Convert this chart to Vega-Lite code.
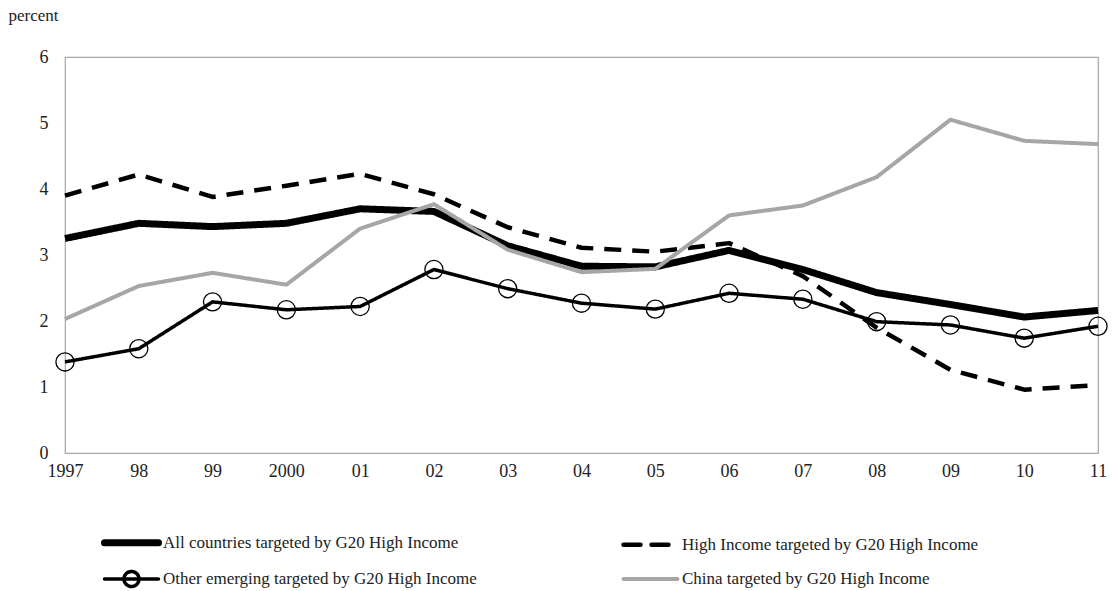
{
  "$schema": "https://vega.github.io/schema/vega-lite/v6.json",
  "autosize": {"type": "none"},
  "width": 1033,
  "height": 396,
  "padding": {"left": 65, "top": 57, "right": 14, "bottom": 138},
  "background": "white",
  "config": {
    "font": "Liberation Serif",
    "view": {"stroke": "#a6a6a6", "strokeWidth": 1.2},
    "axis": {"labelFont": "Liberation Serif", "labelFontSize": 18, "labelColor": "#222", "grid": false, "ticks": false, "domain": false, "titleFont": "Liberation Serif"},
    "legend": {"labelFont": "Liberation Serif", "labelFontSize": 17, "labelColor": "#222"}
  },
  "data": {
    "values": [
      {"year": 1997, "series": "All countries targeted by G20 High Income", "value": 3.25},
      {"year": 1998, "series": "All countries targeted by G20 High Income", "value": 3.48},
      {"year": 1999, "series": "All countries targeted by G20 High Income", "value": 3.43},
      {"year": 2000, "series": "All countries targeted by G20 High Income", "value": 3.48},
      {"year": 2001, "series": "All countries targeted by G20 High Income", "value": 3.7},
      {"year": 2002, "series": "All countries targeted by G20 High Income", "value": 3.66},
      {"year": 2003, "series": "All countries targeted by G20 High Income", "value": 3.14},
      {"year": 2004, "series": "All countries targeted by G20 High Income", "value": 2.83},
      {"year": 2005, "series": "All countries targeted by G20 High Income", "value": 2.82},
      {"year": 2006, "series": "All countries targeted by G20 High Income", "value": 3.07},
      {"year": 2007, "series": "All countries targeted by G20 High Income", "value": 2.78},
      {"year": 2008, "series": "All countries targeted by G20 High Income", "value": 2.43},
      {"year": 2009, "series": "All countries targeted by G20 High Income", "value": 2.25},
      {"year": 2010, "series": "All countries targeted by G20 High Income", "value": 2.06},
      {"year": 2011, "series": "All countries targeted by G20 High Income", "value": 2.16},
      {"year": 1997, "series": "High Income targeted by G20 High Income", "value": 3.9},
      {"year": 1998, "series": "High Income targeted by G20 High Income", "value": 4.22},
      {"year": 1999, "series": "High Income targeted by G20 High Income", "value": 3.88},
      {"year": 2000, "series": "High Income targeted by G20 High Income", "value": 4.05},
      {"year": 2001, "series": "High Income targeted by G20 High Income", "value": 4.23},
      {"year": 2002, "series": "High Income targeted by G20 High Income", "value": 3.92},
      {"year": 2003, "series": "High Income targeted by G20 High Income", "value": 3.42},
      {"year": 2004, "series": "High Income targeted by G20 High Income", "value": 3.11},
      {"year": 2005, "series": "High Income targeted by G20 High Income", "value": 3.05},
      {"year": 2006, "series": "High Income targeted by G20 High Income", "value": 3.18},
      {"year": 2007, "series": "High Income targeted by G20 High Income", "value": 2.68},
      {"year": 2008, "series": "High Income targeted by G20 High Income", "value": 1.9},
      {"year": 2009, "series": "High Income targeted by G20 High Income", "value": 1.26},
      {"year": 2010, "series": "High Income targeted by G20 High Income", "value": 0.96},
      {"year": 2011, "series": "High Income targeted by G20 High Income", "value": 1.03},
      {"year": 1997, "series": "Other emerging targeted by G20 High Income", "value": 1.38},
      {"year": 1998, "series": "Other emerging targeted by G20 High Income", "value": 1.58},
      {"year": 1999, "series": "Other emerging targeted by G20 High Income", "value": 2.29},
      {"year": 2000, "series": "Other emerging targeted by G20 High Income", "value": 2.17},
      {"year": 2001, "series": "Other emerging targeted by G20 High Income", "value": 2.22},
      {"year": 2002, "series": "Other emerging targeted by G20 High Income", "value": 2.78},
      {"year": 2003, "series": "Other emerging targeted by G20 High Income", "value": 2.49},
      {"year": 2004, "series": "Other emerging targeted by G20 High Income", "value": 2.27},
      {"year": 2005, "series": "Other emerging targeted by G20 High Income", "value": 2.18},
      {"year": 2006, "series": "Other emerging targeted by G20 High Income", "value": 2.42},
      {"year": 2007, "series": "Other emerging targeted by G20 High Income", "value": 2.33},
      {"year": 2008, "series": "Other emerging targeted by G20 High Income", "value": 1.99},
      {"year": 2009, "series": "Other emerging targeted by G20 High Income", "value": 1.94},
      {"year": 2010, "series": "Other emerging targeted by G20 High Income", "value": 1.74},
      {"year": 2011, "series": "Other emerging targeted by G20 High Income", "value": 1.92},
      {"year": 1997, "series": "China targeted by G20 High Income", "value": 2.03},
      {"year": 1998, "series": "China targeted by G20 High Income", "value": 2.53},
      {"year": 1999, "series": "China targeted by G20 High Income", "value": 2.73},
      {"year": 2000, "series": "China targeted by G20 High Income", "value": 2.55},
      {"year": 2001, "series": "China targeted by G20 High Income", "value": 3.4},
      {"year": 2002, "series": "China targeted by G20 High Income", "value": 3.77},
      {"year": 2003, "series": "China targeted by G20 High Income", "value": 3.08},
      {"year": 2004, "series": "China targeted by G20 High Income", "value": 2.74},
      {"year": 2005, "series": "China targeted by G20 High Income", "value": 2.79},
      {"year": 2006, "series": "China targeted by G20 High Income", "value": 3.6},
      {"year": 2007, "series": "China targeted by G20 High Income", "value": 3.75},
      {"year": 2008, "series": "China targeted by G20 High Income", "value": 4.18},
      {"year": 2009, "series": "China targeted by G20 High Income", "value": 5.05},
      {"year": 2010, "series": "China targeted by G20 High Income", "value": 4.73},
      {"year": 2011, "series": "China targeted by G20 High Income", "value": 4.68}
    ]
  },
  "encoding": {
    "x": {
      "field": "year", "type": "quantitative",
      "scale": {"domain": [1997, 2011], "nice": false, "zero": false},
      "axis": {
        "title": null,
        "values": [1997, 1998, 1999, 2000, 2001, 2002, 2003, 2004, 2005, 2006, 2007, 2008, 2009, 2010, 2011],
        "labelExpr": "datum.value == 1997 || datum.value == 2000 ? '' + datum.value : slice('' + datum.value, 2)",
        "labelFlush": false,
        "labelPadding": 9,
        "labelBaseline": "top"
      }
    },
    "y": {
      "field": "value", "type": "quantitative",
      "scale": {"domain": [0, 6], "nice": false},
      "axis": {
        "title": "percent",
        "titleAngle": 0,
        "titleAlign": "left",
        "titleBaseline": "alphabetic",
        "titleX": -57,
        "titleY": -37,
        "titleFontSize": 17,
        "titleFontWeight": "normal",
        "titleColor": "#222",
        "values": [0, 1, 2, 3, 4, 5, 6],
        "labelPadding": 17,
        "labelBaseline": "middle"
      }
    }
  },
  "layer": [
    {
      "mark": {"type": "line", "strokeCap": "butt", "strokeJoin": "round"},
      "encoding": {
        "color": {
          "field": "series", "type": "nominal",
          "scale": {
            "domain": ["All countries targeted by G20 High Income", "Other emerging targeted by G20 High Income", "High Income targeted by G20 High Income", "China targeted by G20 High Income"],
            "range": ["#000000", "#000000", "#000000", "#a6a6a6"]
          },
          "legend": {
            "title": null,
            "orient": "none",
            "legendX": 48,
            "legendY": 467,
            "columns": 2,
            "columnPadding": 137,
            "rowPadding": 5,
            "symbolType": "stroke",
            "symbolSize": 900,
            "labelLimit": 0,
            "labelOffset": 13,
            "encode": {
              "symbols": {
                "update": {
                  "shape": {"signal": "datum.value === 'Other emerging targeted by G20 High Income' ? 'M-1.8,0L1.8,0M-0.5,0A0.5,0.5 0 1,1 0.5,0A0.5,0.5 0 1,1 -0.5,0Z' : 'M-1.8,0L1.8,0'"},
                  "fill": {"value": "transparent"},
                  "strokeCap": {"value": "round"}
                }
              }
            }
          }
        },
        "strokeDash": {
          "field": "series", "type": "nominal",
          "scale": {
            "domain": ["All countries targeted by G20 High Income", "Other emerging targeted by G20 High Income", "High Income targeted by G20 High Income", "China targeted by G20 High Income"],
            "range": [[1, 0], [1, 0], [17, 11], [1, 0]]
          }
        },
        "strokeWidth": {
          "field": "series", "type": "nominal",
          "scale": {
            "type": "ordinal",
            "domain": ["All countries targeted by G20 High Income", "Other emerging targeted by G20 High Income", "High Income targeted by G20 High Income", "China targeted by G20 High Income"],
            "range": [7, 3.5, 4.5, 4]
          }
        }
      }
    },
    {
      "transform": [{"filter": "datum.series === 'Other emerging targeted by G20 High Income'"}],
      "mark": {"type": "point", "shape": "circle", "size": 330, "filled": false, "stroke": "#000000", "strokeWidth": 1.3, "opacity": 1},
      "encoding": {}
    }
  ]
}
